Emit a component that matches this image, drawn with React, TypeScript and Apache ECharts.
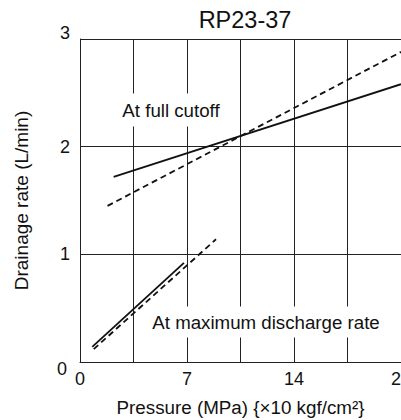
import React, { useEffect, useRef } from "react";
import * as echarts from "echarts";

const titleText = "RP23-37";
const xTicks = [0, 7, 14, 21];
const yTicks = [0, 1, 2, 3];
const fullCutoffSolid: [number, number][] = [[2.2, 1.72], [21, 2.58]];
const fullCutoffDashed: [number, number][] = [[1.8, 1.45], [21, 2.88]];
const maxDischargeSolid: [number, number][] = [[0.8, 0.14], [6.8, 0.92]];
const maxDischargeDashed: [number, number][] = [[0.9, 0.12], [8.9, 1.14]];
const labelFull = "At full cutoff";
const labelMax = "At maximum discharge rate";

const FONT = "'Liberation Sans', Arial, Helvetica, sans-serif";

export default function App() {
  const ref = useRef<HTMLDivElement>(null);
  useEffect(() => {
    if (!ref.current) return;
    const chart = echarts.init(ref.current, undefined, { renderer: "svg" });
    const lineStyle = (dashed: boolean) => ({
      color: "#111",
      width: 1.8,
      type: dashed ? [6, 4] : "solid",
    });
    const mk = (data: [number, number][], dashed: boolean) => ({
      type: "line",
      data,
      showSymbol: false,
      symbol: "none",
      lineStyle: lineStyle(dashed),
      z: 5,
    });
    chart.setOption({
      animation: false,
      backgroundColor: "#fff",
      textStyle: { fontFamily: FONT, color: "#111" },
      title: {
        text: titleText,
        left: 240,
        textAlign: "center",
        top: 3,
        textStyle: { fontFamily: FONT, fontSize: 23.5, fontWeight: "normal", color: "#111" },
      },
      grid: {
        left: 80,
        right: 0,
        top: 39,
        bottom: 58,
        containLabel: false,
        outerBoundsMode: "none",
      },
      xAxis: {
        type: "value",
        min: xTicks[0],
        max: xTicks[xTicks.length - 1],
        interval: 3.5,
        name: "Pressure (MPa) {\u00d710 kgf/cm\u00b2}",
        nameLocation: "middle",
        nameGap: 36,
        nameTextStyle: { fontFamily: FONT, fontSize: 18.8, color: "#111" },
        axisLine: { show: true, lineStyle: { color: "#222", width: 1 } },
        axisTick: { show: false },
        axisLabel: {
          fontFamily: FONT,
          fontSize: 18,
          color: "#111",
          margin: 8,
          showMaxLabel: true,
          hideOverlap: false,
          formatter: (v: number) => (xTicks.includes(v) ? String(v) : ""),
        },
        splitLine: { show: true, lineStyle: { color: "#222", width: 1 } },
      },
      yAxis: {
        type: "value",
        min: yTicks[0],
        max: yTicks[yTicks.length - 1],
        interval: 1,
        name: "Drainage rate (L/min)",
        nameLocation: "middle",
        nameGap: 49,
        nameTextStyle: { fontFamily: FONT, fontSize: 19, color: "#111" },
        axisLine: { show: true, lineStyle: { color: "#222", width: 1 } },
        axisTick: { show: false },
        axisLabel: {
          fontFamily: FONT,
          fontSize: 18,
          color: "#111",
          margin: 10,
          formatter: (v: number) =>
            v === yTicks[yTicks.length - 1] ? "{t|" + v + "}" : v === yTicks[0] ? "{b|" + v + "}" : "{m|" + v + "}",
          rich: {
            t: { fontFamily: FONT, fontSize: 18, color: "#111", padding: [0, 0, 12, 0] },
            b: { fontFamily: FONT, fontSize: 18, color: "#111", padding: [14, 3, 0, 0] },
            m: { fontFamily: FONT, fontSize: 18, color: "#111" },
          },
        },
        splitLine: { show: true, lineStyle: { color: "#222", width: 1 } },
      },
      series: [
        mk(fullCutoffSolid, false),
        mk(fullCutoffDashed, true),
        mk(maxDischargeSolid, false),
        mk(maxDischargeDashed, true),
      ],
      graphic: [
        {
          type: "text",
          x: 171,
          y: 110,
          z: 10,
          style: {
            text: labelFull,
            fontFamily: FONT,
            fontSize: 18.7,
            fill: "#111",
            align: "center",
            verticalAlign: "middle",
            backgroundColor: "#fff",
            padding: [7, 3],
          },
        },
        {
          type: "text",
          x: 266,
          y: 322,
          z: 10,
          style: {
            text: labelMax,
            fontFamily: FONT,
            fontSize: 18.7,
            fill: "#111",
            align: "center",
            verticalAlign: "middle",
            backgroundColor: "#fff",
            padding: [6, 3],
          },
        },
      ],
    });
    return () => chart.dispose();
  }, []);
  return (
    <div
      ref={ref}
      style={{ position: "fixed", left: 0, top: 0, width: 401, height: 420 }}
    />
  );
}
